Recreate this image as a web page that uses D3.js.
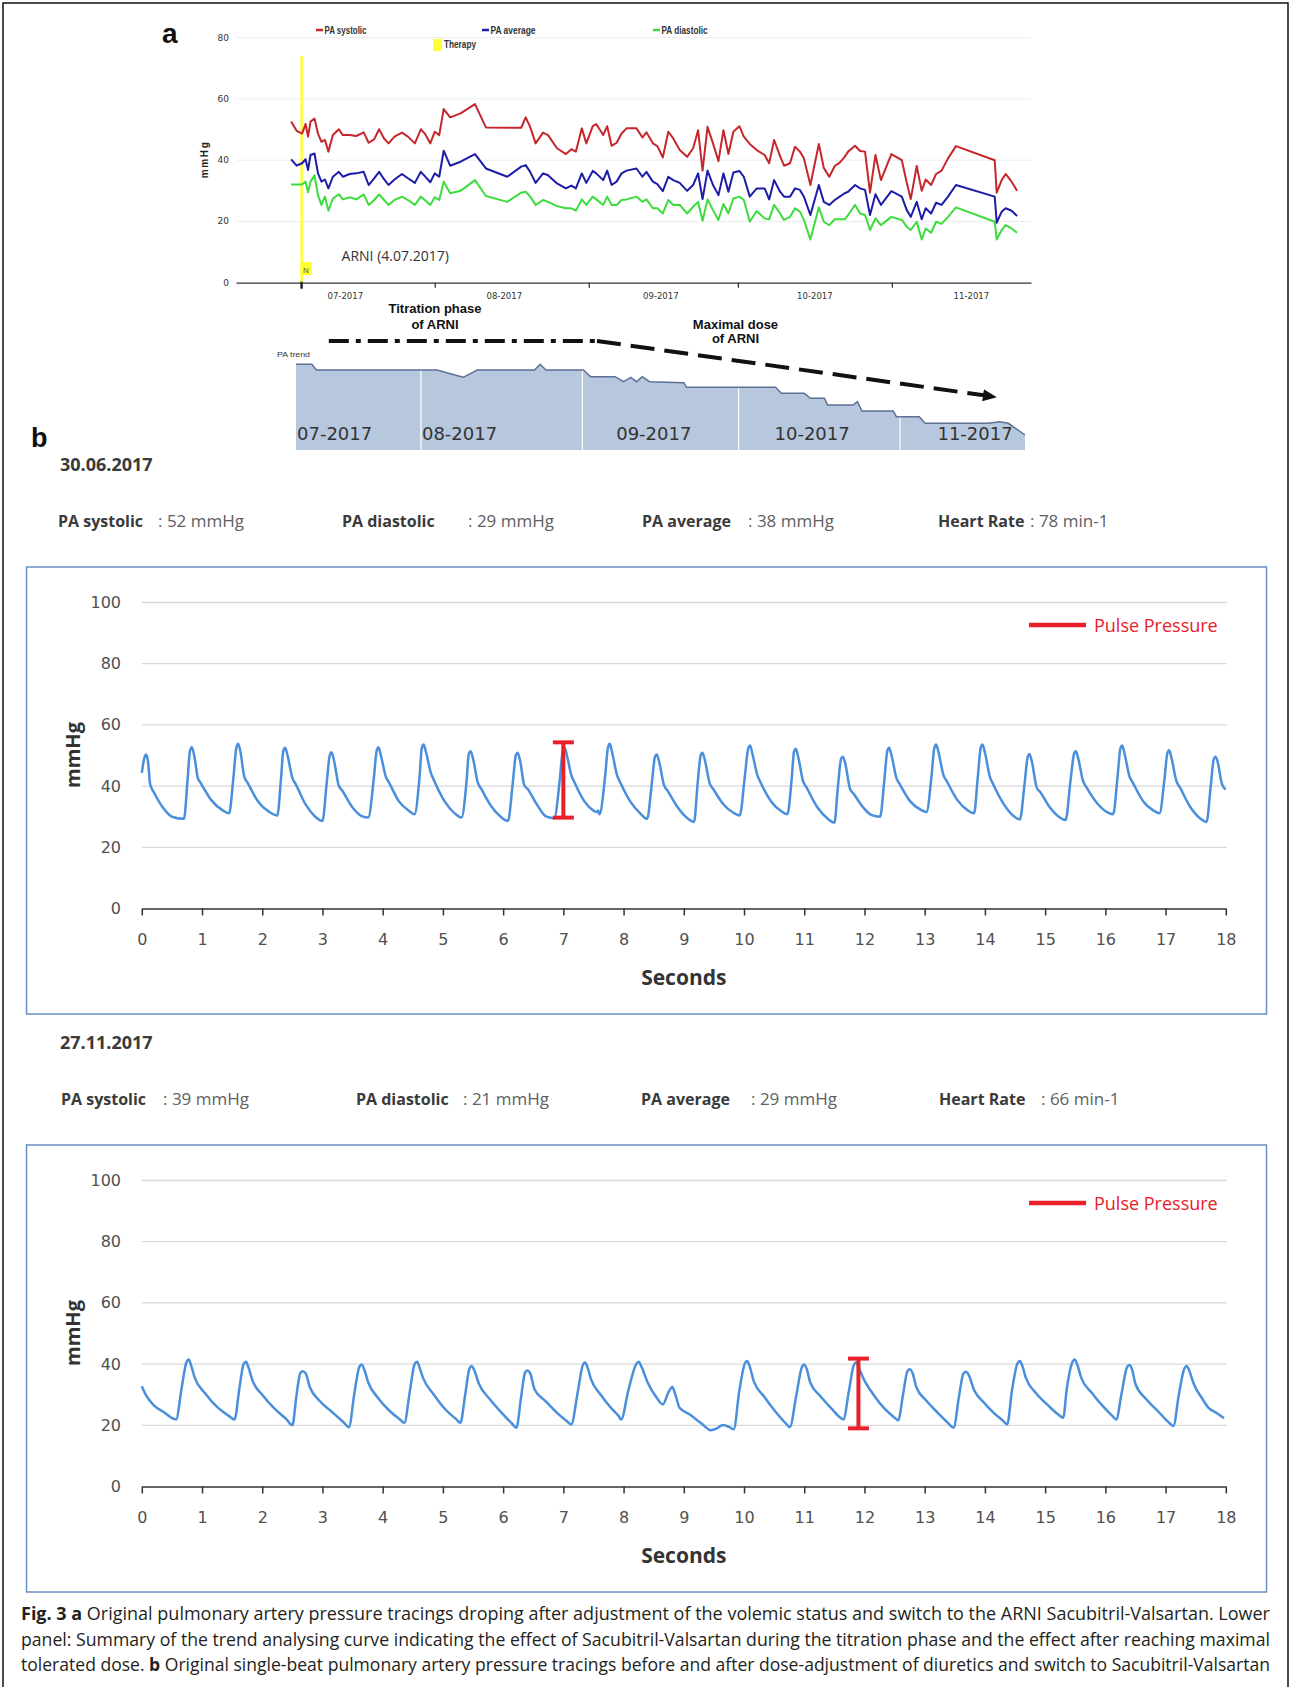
<!DOCTYPE html>
<html>
<head>
<meta charset="utf-8">
<script src="https://cdn.jsdelivr.net/npm/d3@7"></script>
<style>
  html, body { margin: 0; padding: 0; background: #fff; }
  svg { display: block; }
</style>
</head>
<body>
<svg id="fig" width="1290" height="1687"></svg>
<script>
// ---- panel a: daily PA readings (days since 1 July 2017) ----
const trendDays = [
  2.1, 3.2, 4.3, 5.0, 5.5, 6.0, 6.8, 7.5, 8.2, 8.9,
  9.6, 10.5, 11.7, 12.5, 13.9, 15.2, 16.7, 17.7, 18.8, 19.8,
  20.8, 21.7, 22.9, 24.4, 25.6, 27.0, 28.2, 29.0, 30.1, 31.0,
  31.9, 32.8, 34.1, 36.2, 39.1, 41.3, 45.6, 48.4, 49.3, 50.2,
  51.3, 52.8, 53.8, 55.6, 57.4, 58.5, 59.4, 60.6, 61.5, 62.8,
  63.5, 64.9, 65.7, 66.6, 67.6, 68.6, 69.6, 71.6, 72.8, 73.6,
  74.9, 75.8, 76.9, 78.0, 79.0, 80.3, 81.8, 83.0, 84.0, 84.9,
  85.9, 87.0, 88.1, 89.1, 90.1, 91.1, 92.3, 93.2, 94.4, 95.8,
  97.4, 98.3, 99.3, 100.5, 101.3, 102.5, 103.5, 104.5, 105.3, 106.6,
  108.3, 109.3, 110.4, 111.5, 112.5, 113.5, 114.2, 115.6, 116.6, 117.6,
  118.6, 119.7, 120.8, 122.9, 125.0, 126.0, 126.8, 128.0, 129.0, 129.8,
  130.9, 131.9, 133.0, 134.3, 135.9, 143.7, 144.1, 145.1, 145.9, 147.1,
  148.2
];
const paSystolic = [
  52.6, 49.6, 48.7, 51.8, 47.7, 52.6, 53.6, 48.7, 46.0, 46.6,
  42.8, 48.2, 50.1, 48.2, 48.2, 47.9, 49.1, 45.7, 46.8, 50.1,
  47.1, 45.5, 47.7, 49.0, 47.7, 45.5, 50.1, 48.7, 45.5, 49.3,
  48.2, 56.7, 54.0, 55.3, 58.3, 50.7, 50.6, 50.6, 54.0, 50.9,
  45.5, 49.0, 48.2, 43.9, 42.0, 43.6, 42.8, 50.4, 45.5, 51.1,
  51.8, 48.2, 51.1, 44.7, 45.7, 48.7, 50.4, 50.4, 47.4, 49.1,
  45.5, 44.6, 40.9, 49.3, 47.1, 43.3, 41.1, 43.9, 49.8, 36.6,
  50.9, 45.5, 39.7, 49.8, 42.0, 49.3, 51.1, 47.7, 45.3, 43.3,
  41.7, 39.0, 46.6, 41.3, 38.2, 39.0, 44.4, 42.8, 40.6, 31.9,
  45.3, 37.5, 34.6, 38.1, 39.2, 41.1, 42.8, 44.7, 43.0, 42.8,
  29.4, 41.7, 33.5, 42.0, 40.0, 32.6, 27.3, 38.1, 30.0, 33.7,
  31.9, 35.5, 36.6, 40.6, 44.6, 40.0, 29.4, 33.5, 35.5, 33.0,
  30.0
];
const paAverage = [
  40.3, 38.2, 39.0, 40.3, 36.8, 41.7, 42.2, 35.7, 33.0, 33.7,
  30.8, 34.6, 36.2, 34.6, 35.5, 35.7, 36.2, 31.9, 34.1, 36.2,
  33.8, 31.9, 33.7, 35.5, 34.1, 32.6, 36.2, 34.8, 32.8, 35.7,
  34.6, 43.1, 38.2, 39.5, 42.0, 37.3, 34.6, 37.9, 38.4, 36.2,
  32.6, 35.7, 35.1, 32.4, 30.8, 31.7, 30.8, 35.7, 32.6, 36.5,
  35.7, 33.5, 36.6, 31.9, 33.0, 35.7, 36.6, 37.3, 34.6, 36.2,
  33.0, 32.2, 29.9, 34.6, 33.5, 32.6, 30.0, 31.9, 35.7, 27.3,
  36.6, 31.9, 28.6, 35.7, 29.7, 36.0, 36.5, 34.6, 28.1, 30.8,
  30.8, 27.2, 33.5, 29.7, 28.1, 28.1, 30.8, 30.3, 28.1, 22.1,
  31.9, 26.4, 25.4, 27.0, 28.1, 29.2, 29.7, 31.9, 30.8, 30.3,
  22.1, 28.9, 25.4, 29.9, 28.1, 23.7, 21.5, 26.4, 20.7, 24.3,
  22.6, 26.1, 25.4, 28.1, 31.9, 28.1, 19.6, 23.2, 24.3, 23.5,
  21.8
];
const paDiastolic = [
  32.1, 32.1, 32.1, 33.0, 29.5, 33.0, 35.1, 28.6, 25.4, 28.1,
  23.5, 27.5, 28.9, 27.2, 27.9, 27.2, 28.8, 25.4, 27.0, 28.8,
  27.0, 25.4, 27.0, 28.1, 27.0, 25.4, 28.1, 27.0, 25.4, 27.9,
  27.0, 33.0, 29.2, 30.0, 33.5, 28.3, 26.4, 29.4, 29.7, 28.1,
  25.4, 27.0, 26.4, 25.0, 24.3, 24.3, 23.5, 27.2, 25.4, 28.1,
  27.2, 25.4, 28.1, 25.4, 25.4, 27.0, 27.2, 28.1, 26.4, 27.2,
  24.3, 24.3, 22.6, 27.0, 25.4, 25.4, 22.6, 24.8, 26.4, 20.2,
  27.2, 23.7, 20.5, 25.7, 22.6, 27.5, 28.1, 27.0, 19.9, 23.4,
  21.0, 20.7, 25.4, 22.6, 20.5, 21.5, 24.3, 23.2, 20.5, 14.1,
  24.6, 19.9, 18.8, 20.7, 20.7, 20.7, 22.1, 25.4, 22.6, 22.1,
  17.2, 21.0, 18.8, 21.5, 20.5, 18.3, 17.2, 19.9, 14.1, 17.7,
  16.3, 19.9, 19.2, 21.5, 24.6, 19.9, 14.1, 17.2, 18.8, 17.7,
  16.3
];
const topYTicks = [0, 20, 40, 60, 80];
const monthLabels = ['07-2017', '08-2017', '09-2017', '10-2017', '11-2017'];
const monthStartDays = [31, 62, 92, 123];
const monthLabelDays = [13, 45, 76.5, 107.5, 139];
const therapyDay = 4.2;

// ---- panel a, lower: PA trend summary (days since 8 July 2017) ----
const paTrendDays = [0, 3.05, 3.9, 27.1, 29.3, 32.1, 34.8, 45.8, 46.9, 48.0, 55.2, 56.6, 61.3,
  62.9, 64.3, 65.4, 66.5, 67.9, 74.5, 75.0, 92.1, 93.2, 97.6, 98.8, 101.5, 102.1, 107.0,
  107.8, 108.7, 114.7, 115.3, 119.7, 120.8, 132.9, 135.1, 136.8, 140];
const paTrendLevel = [85.7, 85.7, 80, 80, 76.7, 72.7, 80, 80, 85.7, 80, 80, 73.3, 73.3,
  68.3, 72.7, 68.3, 73.3, 68.3, 67.3, 62.7, 62.7, 56.7, 56.7, 51.7, 51.7, 45, 45,
  48.3, 39, 39, 33.3, 33.3, 26.7, 26.7, 28.3, 26.7, 15];
const trendSepDays = [24, 55, 85, 116];
const trendLabelDays = [0, 24, 61.3, 91.7, 123];
const titrationDays = [6.3, 57.8];
const maximalDays = [57.8, 134.4];

// ---- panel b: single-beat tracings [seconds, mmHg] ----
const wave1 = [
  [0.00,44.3],[0.04,49.0],[0.07,50.3],[0.10,48.5],[0.14,40.5],[0.20,38.0],[0.35,33.0],[0.50,30.0],[0.70,29.3],
  [0.76,42.0],[0.80,51.5],[0.83,52.7],[0.87,50.0],[0.93,42.7],[0.98,41.0],[1.15,35.5],[1.35,32.0],[1.45,31.1],
  [1.52,42.5],[1.57,52.5],[1.60,53.8],[1.64,51.0],[1.70,43.2],[1.76,41.0],[1.93,35.0],[2.12,31.5],[2.25,30.4],
  [2.31,42.0],[2.35,51.5],[2.38,52.5],[2.42,50.0],[2.50,42.7],[2.56,40.5],[2.72,34.0],[2.88,30.0],[3.00,28.6],
  [3.07,41.0],[3.12,50.0],[3.15,51.1],[3.19,48.5],[3.27,40.2],[3.33,38.5],[3.50,33.0],[3.65,30.2],[3.76,29.7],
  [3.85,42.0],[3.90,51.5],[3.93,52.7],[3.97,50.0],[4.05,43.2],[4.11,41.0],[4.27,35.0],[4.43,32.0],[4.53,30.8],
  [4.61,42.5],[4.65,52.5],[4.68,53.6],[4.72,51.0],[4.80,44.3],[4.86,41.5],[5.03,35.0],[5.20,31.0],[5.31,29.7],
  [5.39,41.0],[5.43,50.5],[5.46,51.4],[5.50,49.0],[5.58,41.1],[5.64,39.0],[5.80,33.5],[5.97,29.8],[6.08,28.6],
  [6.16,41.0],[6.21,50.0],[6.24,50.9],[6.28,48.5],[6.35,40.4],[6.41,39.0],[6.56,34.0],[6.72,30.0],[6.85,29.5],
  [6.94,42.0],[6.99,51.5],[7.02,52.5],[7.06,50.0],[7.13,43.7],[7.19,41.0],[7.35,35.0],[7.50,32.0],[7.55,31.5],[7.58,32.0],[7.60,30.8],
  [7.69,42.5],[7.74,52.5],[7.77,53.8],[7.81,51.0],[7.89,43.7],[7.95,41.0],[8.11,35.0],[8.28,31.0],[8.39,29.3],
  [8.47,41.0],[8.52,49.5],[8.55,50.3],[8.59,48.0],[8.67,40.4],[8.73,38.5],[8.90,33.0],[9.06,29.5],[9.17,28.3],
  [9.23,41.0],[9.28,50.0],[9.31,50.9],[9.35,48.5],[9.43,40.9],[9.49,39.0],[9.66,34.0],[9.83,31.2],[9.93,30.4],
  [10.01,42.5],[10.07,52.3],[10.10,53.3],[10.14,50.5],[10.22,43.7],[10.28,41.0],[10.45,35.0],[10.62,31.8],[10.72,30.8],
  [10.79,42.0],[10.83,51.2],[10.86,52.2],[10.90,49.5],[10.98,41.6],[11.04,39.5],[11.22,33.0],[11.40,29.2],[11.50,28.0],
  [11.56,40.0],[11.61,48.8],[11.64,49.6],[11.68,47.5],[11.76,39.1],[11.82,37.5],[11.98,33.0],[12.12,30.5],[12.26,30.0],
  [12.33,42.0],[12.38,51.5],[12.41,52.5],[12.45,50.0],[12.53,42.7],[12.59,40.5],[12.76,35.0],[12.93,32.3],[13.03,31.5],
  [13.11,42.5],[13.16,52.5],[13.19,53.6],[13.23,51.0],[13.31,43.7],[13.37,41.5],[13.54,35.5],[13.72,32.0],[13.82,31.1],
  [13.88,42.5],[13.93,52.5],[13.96,53.6],[14.00,51.0],[14.08,43.2],[14.14,40.5],[14.30,34.5],[14.47,30.3],[14.58,29.1],
  [14.66,41.0],[14.71,49.5],[14.74,50.5],[14.78,48.0],[14.86,39.5],[14.92,38.0],[15.08,33.0],[15.24,29.8],[15.34,28.9],
  [15.42,41.5],[15.48,50.5],[15.51,51.4],[15.55,49.0],[15.63,41.6],[15.69,39.5],[15.86,34.5],[16.03,31.5],[16.13,30.8],
  [16.20,42.5],[16.25,52.3],[16.28,53.3],[16.32,50.5],[16.40,43.2],[16.46,41.0],[16.63,35.0],[16.80,32.0],[16.90,31.1],
  [16.98,42.0],[17.03,50.8],[17.06,51.7],[17.10,49.0],[17.18,41.6],[17.24,39.5],[17.40,33.5],[17.57,29.5],[17.68,28.3],
  [17.75,40.0],[17.80,48.8],[17.83,49.6],[17.87,47.5],[17.92,42.0],[17.95,40.0],[18.00,38.9]
];
const wave2 = [
  [0.00,32.8],[0.08,29.5],[0.20,26.5],[0.35,24.5],[0.57,21.9],
  [0.66,32.0],[0.74,40.5],[0.78,41.5],[0.82,39.5],[0.88,35.5],[1.05,30.5],[1.25,26.0],[1.45,23.0],[1.54,21.9],
  [1.62,32.0],[1.69,40.0],[1.73,40.8],[1.77,39.0],[1.84,34.5],[2.00,30.0],[2.20,25.5],[2.40,22.0],[2.50,20.0],
  [2.57,30.0],[2.63,37.0],[2.67,37.7],[2.72,37.0],[2.79,32.5],[2.95,28.0],[3.15,24.5],[3.35,21.0],[3.44,19.4],
  [3.53,30.5],[3.61,39.0],[3.65,39.9],[3.69,38.5],[3.76,34.0],[3.92,29.0],[4.10,25.0],[4.28,22.0],[4.36,20.8],
  [4.45,31.0],[4.53,40.0],[4.57,40.8],[4.61,39.0],[4.67,35.5],[4.85,30.0],[5.05,25.0],[5.22,22.0],[5.29,20.8],
  [5.37,30.0],[5.44,38.5],[5.48,39.4],[5.52,38.0],[5.60,33.5],[5.78,28.5],[5.98,24.0],[6.15,20.5],[6.22,19.2],
  [6.30,29.5],[6.36,37.0],[6.40,37.9],[6.45,37.0],[6.52,31.8],[6.70,28.0],[6.90,24.0],[7.05,21.5],[7.13,20.3],
  [7.24,31.0],[7.32,39.5],[7.36,40.5],[7.40,39.0],[7.46,35.0],[7.62,30.0],[7.80,25.5],[7.92,23.0],[7.96,21.9],
  [8.08,31.5],[8.21,40.0],[8.25,40.8],[8.30,39.0],[8.40,34.0],[8.55,29.0],[8.65,26.8],[8.75,31.0],[8.81,32.5],
  [8.86,30.0],[8.93,25.7],[9.10,23.5],[9.30,20.5],[9.45,18.4],[9.55,19.0],[9.65,20.1],[9.75,19.5],[9.83,18.7],
  [9.92,31.0],[10.01,40.0],[10.05,41.0],[10.09,39.5],[10.16,34.5],[10.33,29.5],[10.52,24.5],[10.70,20.5],[10.76,19.4],
  [10.87,30.0],[10.96,39.0],[11.00,39.9],[11.04,38.5],[11.10,34.0],[11.27,29.5],[11.45,25.5],[11.60,22.5],[11.65,21.9],
  [11.74,31.0],[11.82,39.5],[11.86,40.5],[11.90,39.0],[11.99,35.0],[12.15,30.0],[12.33,25.5],[12.50,22.5],[12.56,21.6],
  [12.64,30.0],[12.71,37.5],[12.75,38.3],[12.80,37.0],[12.86,32.5],[13.03,28.0],[13.22,24.0],[13.40,20.5],[13.48,19.2],
  [13.57,29.5],[13.64,36.8],[13.68,37.5],[13.73,36.5],[13.82,31.5],[13.98,27.5],[14.15,24.0],[14.30,21.5],[14.37,20.3],
  [14.45,31.5],[14.54,40.2],[14.58,41.0],[14.62,39.5],[14.68,35.5],[14.85,30.5],[15.05,26.5],[15.22,23.5],[15.30,22.5],
  [15.36,32.0],[15.45,40.5],[15.49,41.5],[15.53,40.0],[15.60,35.5],[15.78,30.5],[15.97,26.0],[16.12,23.0],[16.18,21.9],
  [16.27,30.5],[16.36,39.0],[16.40,39.7],[16.44,38.5],[16.50,33.5],[16.68,28.5],[16.88,24.5],[17.05,21.0],[17.13,19.8],
  [17.22,30.0],[17.31,38.5],[17.35,39.4],[17.39,38.0],[17.47,33.4],[17.60,29.0],[17.71,25.8],[17.85,24.0],[17.97,22.3]
];
const readings = [
  { date: '30.06.2017', systolic: 52, diastolic: 29, average: 38, heartRate: 78 },
  { date: '27.11.2017', systolic: 39, diastolic: 21, average: 29, heartRate: 66 }
];
const pulseBars = [
  { t: 7.0, low: 29.7, high: 54.3 },
  { t: 11.9, low: 19.0, high: 41.8 }
];
const waveYTicks = [0, 20, 40, 60, 80, 100];

const captionLines = [
  [['Fig. 3 a', true], [' Original pulmonary artery pressure tracings droping after adjustment of the volemic status and switch to the ARNI Sacubitril-Valsartan. Lower', false]],
  [['panel: Summary of the trend analysing curve indicating the effect of Sacubitril-Valsartan during the titration phase and the effect after reaching maximal', false]],
  [['tolerated dose. ', false], ['b', true], [' Original single-beat pulmonary artery pressure tracings before and after dose-adjustment of diuretics and switch to Sacubitril-Valsartan', false]]
];

const svg = d3.select('#fig');
svg.append('rect').attr('width', 1290).attr('height', 1687).attr('fill', '#fff');

const defs = svg.append('defs');
defs.append('marker').attr('id', 'arrow')
  .attr('markerUnits', 'userSpaceOnUse')
  .attr('viewBox', '0 0 14 12').attr('markerWidth', 14).attr('markerHeight', 12)
  .attr('refX', 13).attr('refY', 6).attr('orient', 'auto')
  .append('path').attr('d', 'M0,0 L14,6 L0,12 z').attr('fill', '#111');

// outer frame
svg.append('rect').attr('x', 3).attr('y', 3).attr('width', 1285).attr('height', 1700)
  .attr('fill', 'none').attr('stroke', '#111').attr('stroke-width', 1.5);

// panel letters
svg.append('text').attr('x', 162).attr('y', 43).text('a')
  .style('font', 'bold 28px "Liberation Sans", Arial, sans-serif').attr('fill', '#111');
svg.append('text').attr('x', 31).attr('y', 447).text('b')
  .style('font', 'bold 27px "Liberation Sans", Arial, sans-serif').attr('fill', '#111');

// ===== panel a: trend lines =====
const topX = d3.scaleLinear().domain([-9, 151]).range([236, 1031]);
const topY = d3.scaleLinear().domain([0, 80]).range([282.7, 37.7]);
const pa = svg.append('g');

pa.selectAll('line.grid').data(topYTicks.slice(1)).join('line')
  .attr('x1', 237).attr('x2', 1031)
  .attr('y1', d => topY(d)).attr('y2', d => topY(d))
  .attr('stroke', '#ececec').attr('stroke-width', 1);

pa.selectAll('text.ytick').data(topYTicks).join('text')
  .attr('x', 229).attr('y', d => topY(d) + 3)
  .attr('text-anchor', 'end')
  .style('font', '9px "DejaVu Sans", sans-serif').attr('fill', '#333')
  .text(d => d);

pa.append('text')
  .attr('transform', `translate(208,${topY(40)}) rotate(-90)`)
  .attr('text-anchor', 'middle')
  .attr('textLength', 36).attr('lengthAdjust', 'spacing')
  .style('font', 'bold 10px "Liberation Sans", Arial, sans-serif').attr('fill', '#222')
  .text('mmHg');

pa.append('g')
  .attr('transform', `translate(0,${topY(0)})`)
  .call(d3.axisBottom(topX).tickValues(monthStartDays).tickSize(5).tickSizeOuter(0).tickFormat(''))
  .call(g => g.selectAll('path, line').attr('stroke', '#333').attr('stroke-width', 1.3));

pa.selectAll('text.month').data(monthLabels).join('text')
  .attr('x', (d, i) => topX(monthLabelDays[i])).attr('y', 299)
  .attr('text-anchor', 'middle')
  .style('font', '8.5px "DejaVu Sans", sans-serif').attr('fill', '#333')
  .text(d => d);

// therapy marker
const tx = topX(therapyDay);
pa.append('line').attr('x1', tx).attr('x2', tx).attr('y1', 56).attr('y2', topY(0))
  .attr('stroke', '#ffff33').attr('stroke-width', 2.5);
pa.append('line').attr('x1', tx).attr('x2', tx).attr('y1', topY(0) - 1).attr('y2', topY(0) + 6)
  .attr('stroke', '#222').attr('stroke-width', 2.5);
pa.append('rect').attr('x', tx - 1).attr('y', 262).attr('width', 11).attr('height', 13).attr('fill', '#ffff33');
pa.append('text').attr('x', tx + 1.5).attr('y', 272.5).text('N')
  .style('font', '8px "Liberation Sans", sans-serif').attr('fill', '#555');
pa.append('text').attr('x', tx + 40).attr('y', 261).text('ARNI (4.07.2017)')
  .style('font', '14px "Open Sans", sans-serif').attr('fill', '#333');

const series = [
  { name: 'PA diastolic', values: paDiastolic, color: '#3ddc3d', lx: 653, tl: 46 },
  { name: 'PA average', values: paAverage, color: '#1c1ca8', lx: 482, tl: 45 },
  { name: 'PA systolic', values: paSystolic, color: '#c6262b', lx: 316, tl: 42 }
];
const trendLine = d3.line().x((d, i) => topX(trendDays[i])).y(d => topY(d));
series.forEach(s => {
  pa.append('path').attr('d', trendLine(s.values))
    .attr('fill', 'none').attr('stroke', s.color).attr('stroke-width', 2)
    .attr('stroke-linejoin', 'round');
  pa.append('line').attr('x1', s.lx).attr('x2', s.lx + 7).attr('y1', 30).attr('y2', 30)
    .attr('stroke', s.color).attr('stroke-width', 2.5);
  pa.append('text').attr('x', s.lx + 8.5).attr('y', 33.5)
    .attr('textLength', s.tl).attr('lengthAdjust', 'spacingAndGlyphs')
    .style('font', 'bold 10px "Liberation Sans", Arial, sans-serif').attr('fill', '#333')
    .text(s.name);
});
pa.append('rect').attr('x', 433).attr('y', 39).attr('width', 9).attr('height', 12).attr('fill', '#ffff33');
pa.append('text').attr('x', 444).attr('y', 48)
  .attr('textLength', 32).attr('lengthAdjust', 'spacingAndGlyphs')
  .style('font', 'bold 10px "Liberation Sans", Arial, sans-serif').attr('fill', '#333')
  .text('Therapy');

// ===== panel a, lower: PA trend area =====
const trX = d3.scaleLinear().domain([0, 140]).range([296, 1025]);
const trY = d3.scaleLinear().domain([0, 100]).range([450, 350]);
const tr = svg.append('g');

tr.append('path')
  .attr('d', d3.area().x((d, i) => trX(paTrendDays[i])).y0(trY(0)).y1(d => trY(d))(paTrendLevel))
  .attr('fill', '#b6c7de');
tr.selectAll('line.sep').data(trendSepDays).join('line')
  .attr('x1', d => trX(d)).attr('x2', d => trX(d))
  .attr('y1', trY(0)).attr('y2', trY(90))
  .attr('stroke', '#fff').attr('stroke-width', 1.2);
tr.append('path')
  .attr('d', d3.line().x((d, i) => trX(paTrendDays[i])).y(d => trY(d))(paTrendLevel))
  .attr('fill', 'none').attr('stroke', '#5e7096').attr('stroke-width', 1.5);
tr.selectAll('text.tmonth').data(monthLabels).join('text')
  .attr('x', (d, i) => trX(trendLabelDays[i]) + 1).attr('y', 440)
  .style('font', '18px "DejaVu Sans", sans-serif').attr('fill', '#333')
  .text(d => d);
tr.append('text').attr('x', 277).attr('y', 357).text('PA trend')
  .attr('textLength', 33).attr('lengthAdjust', 'spacingAndGlyphs')
  .style('font', '8px "Liberation Sans", sans-serif').attr('fill', '#333');

// phase annotations
tr.append('line')
  .attr('x1', trX(titrationDays[0])).attr('x2', trX(titrationDays[1]))
  .attr('y1', 341).attr('y2', 341)
  .attr('stroke', '#111').attr('stroke-width', 4).attr('stroke-dasharray', '20,7,5,7');
tr.append('line')
  .attr('x1', trX(maximalDays[0])).attr('y1', 341)
  .attr('x2', trX(maximalDays[1])).attr('y2', 397)
  .attr('stroke', '#111').attr('stroke-width', 4).attr('stroke-dasharray', '24,10')
  .attr('marker-end', 'url(#arrow)');
const phaseFont = 'bold 13px "Liberation Sans", Arial, sans-serif';
[['Titration phase', 26.7, 312.5], ['of ARNI', 26.7, 328.5], ['Maximal dose', 84.4, 328.5], ['of ARNI', 84.4, 343]]
  .forEach(([t, d, y]) => {
    tr.append('text').attr('x', trX(d)).attr('y', y).attr('text-anchor', 'middle')
      .style('font', phaseFont).attr('fill', '#111').text(t);
  });

// ===== panel b: single-beat tracings =====
const wx = d3.scaleLinear().domain([0, 18]).range([141.8, 1225.8]);
const headerLayouts = [
  { labelX: [58, 342, 642, 938], valueX: [158, 468, 748, 1030] },
  { labelX: [61, 356, 641, 939], valueX: [163, 463, 751, 1041] }
];
const boxTops = [567, 1145];

function drawTrace(idx, data) {
  const top = boxTops[idx];
  const rd = readings[idx];
  const lay = headerLayouts[idx];
  const bar = pulseBars[idx];
  const g = svg.append('g');
  const wy = d3.scaleLinear().domain([0, 100]).range([top + 341.5, top + 35.5]);

  g.append('text').attr('x', 60).attr('y', top - 96.5).text(rd.date)
    .style('font', 'bold 18px "Open Sans", sans-serif').attr('fill', '#3a3a3a');
  const labels = ['PA systolic', 'PA diastolic', 'PA average', 'Heart Rate'];
  const values = [`: ${rd.systolic} mmHg`, `: ${rd.diastolic} mmHg`, `: ${rd.average} mmHg`, `: ${rd.heartRate} min-1`];
  labels.forEach((l, i) => {
    g.append('text').attr('x', lay.labelX[i]).attr('y', top - 40.5).text(l)
      .style('font', 'bold 16px "Open Sans", sans-serif').attr('fill', '#3a3a3a');
    g.append('text').attr('x', lay.valueX[i]).attr('y', top - 40.5).text(values[i])
      .style('font', '17px "Open Sans", sans-serif').attr('fill', '#606060');
  });

  g.append('rect').attr('x', 26.5).attr('y', top).attr('width', 1240).attr('height', 447)
    .attr('fill', 'none').attr('stroke', '#6890c3').attr('stroke-width', 1.5);

  g.selectAll('line.grid').data(waveYTicks.slice(1)).join('line')
    .attr('x1', wx(0)).attr('x2', wx(18) + 1)
    .attr('y1', d => wy(d)).attr('y2', d => wy(d))
    .attr('stroke', '#d9d9d9').attr('stroke-width', 1.3);
  g.selectAll('text.yt').data(waveYTicks).join('text')
    .attr('x', 121).attr('y', d => wy(d) + 5.5).attr('text-anchor', 'end')
    .style('font', '16px "DejaVu Sans", sans-serif').attr('fill', '#505050')
    .text(d => d);

  const xa = g.append('g').attr('transform', `translate(0,${wy(0)})`)
    .call(d3.axisBottom(wx).ticks(18).tickSize(7).tickSizeOuter(0).tickPadding(18).tickFormat(d3.format('d')));
  xa.selectAll('path, line').attr('stroke', '#333').attr('stroke-width', 1.5);
  xa.selectAll('text').style('font', '16px "DejaVu Sans", sans-serif').attr('fill', '#505050');

  g.append('text').attr('x', wx(9)).attr('y', wy(0) + 76).attr('text-anchor', 'middle')
    .style('font', 'bold 21px "Open Sans", sans-serif').attr('fill', '#333').text('Seconds');
  g.append('text').attr('transform', `translate(80,${top + 188}) rotate(-90)`)
    .attr('text-anchor', 'middle')
    .style('font', 'bold 20px "Open Sans", sans-serif').attr('fill', '#333').text('mmHg');

  g.append('path')
    .attr('d', d3.line().curve(d3.curveMonotoneX).x(d => wx(d[0])).y(d => wy(d[1]))(data))
    .attr('fill', 'none').attr('stroke', '#4a8fdc').attr('stroke-width', 2.5)
    .attr('stroke-linejoin', 'round');

  // pulse pressure bar
  const bx = wx(bar.t);
  g.append('line').attr('x1', bx).attr('x2', bx).attr('y1', wy(bar.low)).attr('y2', wy(bar.high))
    .attr('stroke', '#e8202a').attr('stroke-width', 4);
  [bar.low, bar.high].forEach(v => {
    g.append('line').attr('x1', bx - 10.5).attr('x2', bx + 10.5).attr('y1', wy(v)).attr('y2', wy(v))
      .attr('stroke', '#e8202a').attr('stroke-width', 4);
  });

  // legend
  g.append('line').attr('x1', 1029).attr('x2', 1086).attr('y1', top + 58).attr('y2', top + 58)
    .attr('stroke', '#e8202a').attr('stroke-width', 4.5);
  g.append('text').attr('x', 1094).attr('y', top + 64.5).text('Pulse Pressure')
    .style('font', '18px "Open Sans", sans-serif').attr('fill', '#e8202a');
}
drawTrace(0, wave1);
drawTrace(1, wave2);

// ===== caption =====
const cap = svg.append('g');
captionLines.forEach((parts, i) => {
  const t = cap.append('text').attr('x', 21).attr('y', 1620 + i * 25.5)
    .attr('textLength', 1249).attr('lengthAdjust', 'spacingAndGlyphs')
    .style('font', '17.5px "Open Sans", sans-serif').attr('fill', '#231f20');
  parts.forEach(([s, b]) => t.append('tspan').attr('font-weight', b ? 'bold' : 'normal').text(s));
});
</script>
</body>
</html>
